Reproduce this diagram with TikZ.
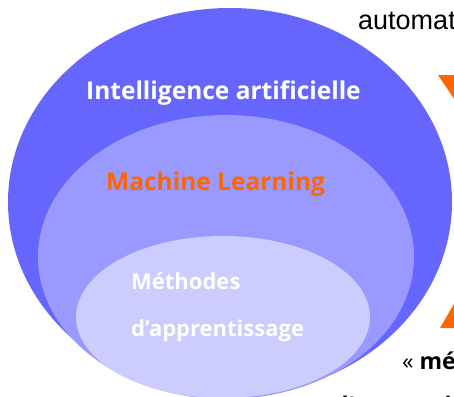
\documentclass[tikz,border=0pt]{standalone}
\usepackage{fontspec}
\newfontfamily\labfont{Open Sans}
\newfontfamily\arialfont{Liberation Sans}
\definecolor{aiblue}{HTML}{6666FF}
\definecolor{mlblue}{HTML}{9999FF}
\definecolor{methblue}{HTML}{CCCCFF}
\definecolor{accent}{HTML}{FF6600}
\tikzset{
  lbl/.style={inner sep=0pt, anchor=base west, font=\labfont\bfseries\fontsize{24.5}{30}\selectfont},
  smalllbl/.style={inner sep=0pt, anchor=base west, font=\labfont\bfseries\fontsize{22}{26}\selectfont, text=white},
  sidetext/.style={inner sep=0pt, anchor=base west, font=\labfont\fontsize{23}{28}\selectfont, text=black},
}
\begin{document}
\begin{tikzpicture}[x=1pt, y=-1pt]
  \useasboundingbox (0,0) rectangle (454,396);
  \clip (0,0) rectangle (454,396);
  \fill[white] (0,0) rectangle (454,396);

  % nested sets
  \fill[aiblue]   (230,202) ellipse [x radius=222, y radius=194];
  \fill[mlblue]   (226,257) ellipse [x radius=188, y radius=142];
  \fill[methblue] (223,317) ellipse [x radius=147, y radius=81];

  % labels of the sets
  \node[lbl, text=white]  (ai) at (86,99)  {Intelligence artificielle};
  \node[lbl, text=accent] (ml) at (106,190) {Machine Learning};
  \node[smalllbl] (meth1) at (131,289) {Méthodes};
  \node[smalllbl] (meth2) at (131,336) {d’apprentissage};

  % side elements
  \node[inner sep=0pt, anchor=base west, font=\arialfont\fontsize{27}{32}\selectfont] (auto) at (358,30) {automatique};
  \fill[accent] (438,75) -- (500,75) -- (469,121) -- cycle;
  \fill[accent] (440,328) -- (462,290) -- (484,328) -- cycle;
  \node[sidetext] (quote) at (402,369) {« \bfseries méthodes};
  \node[sidetext, font=\labfont\bfseries\fontsize{23}{28}\selectfont] (quote2) at (334,413) {d’apprentissage};
\end{tikzpicture}
\end{document}
